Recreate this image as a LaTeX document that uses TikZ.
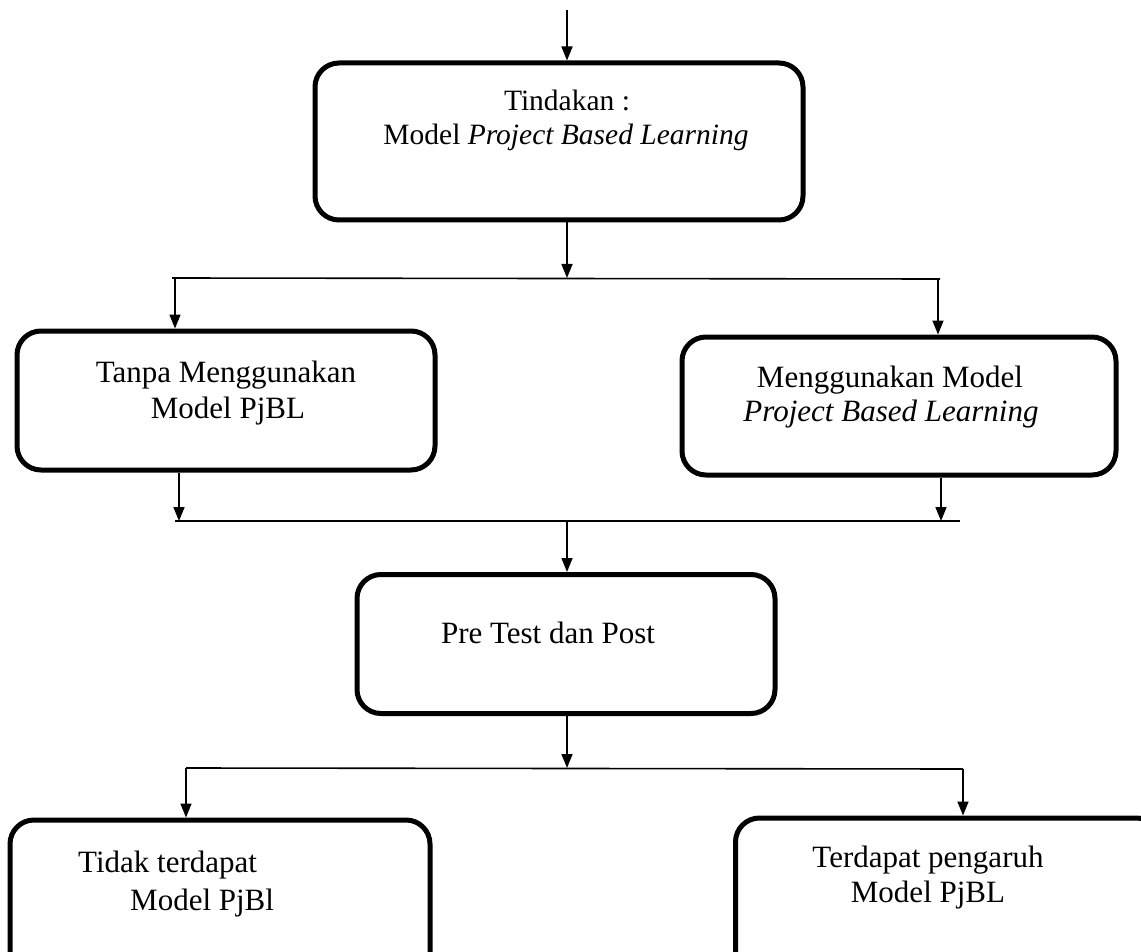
\documentclass[tikz,border=0pt]{standalone}
\usepackage{fontspec}
\setmainfont{Liberation Serif}
\usetikzlibrary{arrows.meta}
\begin{document}
\begin{tikzpicture}[x=1pt,y=-1pt,
  box/.style={draw, line width=5pt, rounded corners=24pt, inner sep=0pt},
  txt/.style={inner sep=0pt, anchor=base, font=\fontsize{31}{36}\selectfont},
  txtb/.style={inner sep=0pt, anchor=base, font=\fontsize{29.5}{35}\selectfont},
  arr/.style={line width=1.6pt, -{Triangle[length=14pt,width=11pt]}},
  ln/.style={line width=1.6pt}]
\useasboundingbox (0,0) rectangle (1141,952);
\clip (0,0) rectangle (1141,952);
\fill[white] (0,0) rectangle (1141,952);
% boxes
\node[box, minimum width=488pt, minimum height=157pt] (b1) at (559,141.5) {};
\node[box, minimum width=418pt, minimum height=139pt] (b2) at (226,400.5) {};
\node[box, minimum width=434pt, minimum height=138pt] (b3) at (899,406) {};
\node[box, minimum width=418pt, minimum height=139pt] (b4) at (566,644) {};
\node[box, minimum width=420pt, minimum height=190pt] (b5) at (220,915) {};
\node[box, minimum width=425pt, minimum height=190pt] (b6) at (948,913) {};
% texts
\node[txtb] (t1a) at (567,111) {Tindakan :};
\node[txtb] (t1b) at (566,145) {Model \textit{Project Based Learning}};
\node[txt] (t2a) at (226,382) {Tanpa Menggunakan};
\node[txt] (t2b) at (228,418) {Model PjBL};
\node[txt] (t3a) at (890,387) {Menggunakan Model};
\node[txt] (t3b) at (891,421) {\textit{Project Based Learning}};
\node[txt] (t4) at (548,643) {Pre Test dan Post};
\node[txt, anchor=base west] (t5a) at (78,872) {Tidak terdapat};
\node[txt, anchor=base west] (t5b) at (130,910) {Model PjBl};
\node[txt] (t6a) at (928,867) {Terdapat pengaruh};
\node[txt] (t6b) at (928,902) {Model PjBL};
% coordinates
\coordinate (c0) at (567,10);
\coordinate (l1a) at (172,278);
\coordinate (l1b) at (940,279);
\coordinate (l1m) at (567,278);
\coordinate (l1l) at (175,278);
\coordinate (l1r) at (938,279);
\coordinate (l2a) at (175,521);
\coordinate (l2b) at (960,521);
\coordinate (l2l) at (179,521);
\coordinate (l2r) at (941,521);
\coordinate (l2m) at (567,521);
\coordinate (l3a) at (186,768);
\coordinate (l3b) at (963,769);
\coordinate (l3m) at (567,768);
% connectors
\draw[arr] (c0) -- (c0 |- b1.north);
\draw[arr] (b1.south -| l1m) -- (l1m);
\draw[ln] (l1a) -- (l1b);
\draw[arr] (l1l) -- (l1l |- b2.north);
\draw[arr] (l1r) -- (l1r |- b3.north);
\draw[arr] (b2.south -| l2l) -- (l2l);
\draw[arr] (b3.south -| l2r) -- (l2r);
\draw[ln] (l2a) -- (l2b);
\draw[arr] (l2m) -- (l2m |- b4.north);
\draw[arr] (b4.south -| l3m) -- (l3m);
\draw[ln] (l3a) -- (l3b);
\draw[arr] (l3a) -- (l3a |- b5.north);
\draw[arr] (l3b) -- (l3b |- b6.north);
\end{tikzpicture}
\end{document}
